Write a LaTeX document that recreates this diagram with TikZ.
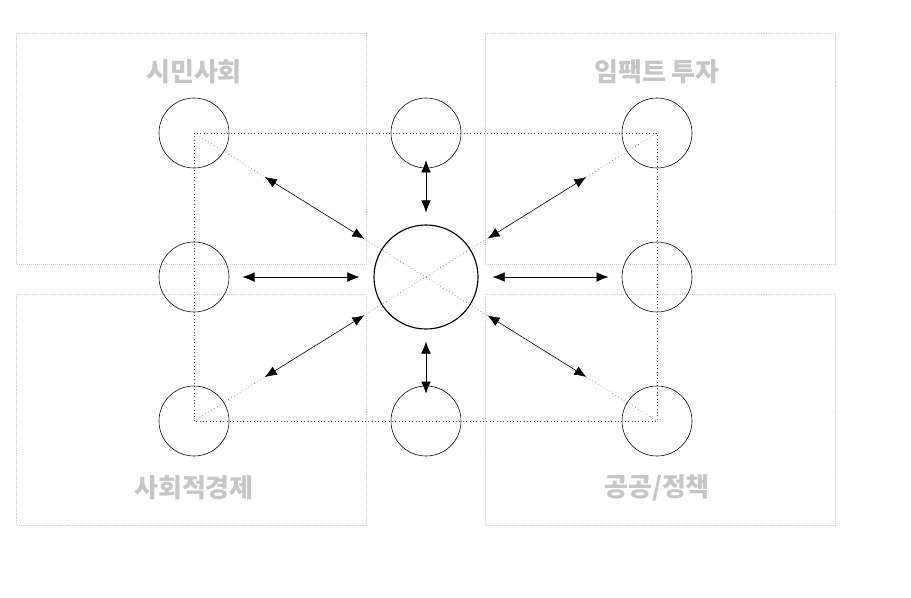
\documentclass[tikz,border=0pt]{standalone}
\usepackage{fontspec}
\newfontfamily\kor{Noto Sans CJK KR}
\usetikzlibrary{arrows.meta}
\tikzset{
  sector/.style={draw=gray!40, densely dotted},
  sectorlabel/.style={text=gray!45, font=\kor\bfseries\fontsize{18.5}{20}\selectfont},
  actor/.style={circle, draw, thin, minimum size=1.75cm, inner sep=0pt},
  hub/.style={circle, draw, thick, minimum size=2.6cm, inner sep=0pt},
  link/.style={{Latex[length=3mm,width=2.4mm]}-{Latex[length=3mm,width=2.4mm]}, thin}
}
\begin{document}
\begin{tikzpicture}[x=0.025cm, y=-0.025cm]
    \useasboundingbox (0,0) rectangle (911,597);
    % sectors
    \draw[sector] (16,33) rectangle (366,264);
    \draw[sector] (485,33) rectangle (835,264);
    \draw[sector] (16,294) rectangle (366,525);
    \draw[sector] (485,294) rectangle (835,525);
    \node[sectorlabel] (civil) at (194,72) {시민사회};
    \node[sectorlabel] (impact) at (657,72) {임팩트 투자};
    \node[sectorlabel] (social) at (194,488) {사회적경제};
    \node[sectorlabel] (public) at (657,488) {공공/정책};
    % actors
    \node[actor] (tl) at (194,133) {};
    \node[actor] (tc) at (426,133) {};
    \node[actor] (tr) at (657,133) {};
    \node[actor] (ml) at (194,277) {};
    \node[hub]   (hub) at (426,277) {};
    \node[actor] (mr) at (657,277) {};
    \node[actor] (bl) at (194,421) {};
    \node[actor] (bc) at (426,421) {};
    \node[actor] (br) at (657,421) {};
    % frame
    \draw[dotted, thin, black!70] (tl.center) rectangle (br.center);
    \draw[dotted, thin, black!70] (tl.center) -- (br.center);
    \draw[dotted, thin, black!70] (bl.center) -- (tr.center);
    % links
    \draw[link, shorten <=1.2cm, shorten >=0.5cm] (tl) -- (hub);
    \draw[link, shorten <=1.2cm, shorten >=0.5cm] (tr) -- (hub);
    \draw[link, shorten <=1.2cm, shorten >=0.5cm] (bl) -- (hub);
    \draw[link, shorten <=1.2cm, shorten >=0.5cm] (br) -- (hub);
    \draw[link, shorten <=0.33cm, shorten >=0.35cm] (ml) -- (hub);
    \draw[link, shorten <=0.33cm, shorten >=0.35cm] (mr) -- (hub);
    \draw[link, shorten <=-0.2cm, shorten >=0.3cm] (tc) -- (hub);
    \draw[link, shorten <=-0.2cm, shorten >=0.3cm] (bc) -- (hub);
\end{tikzpicture}
\end{document}
